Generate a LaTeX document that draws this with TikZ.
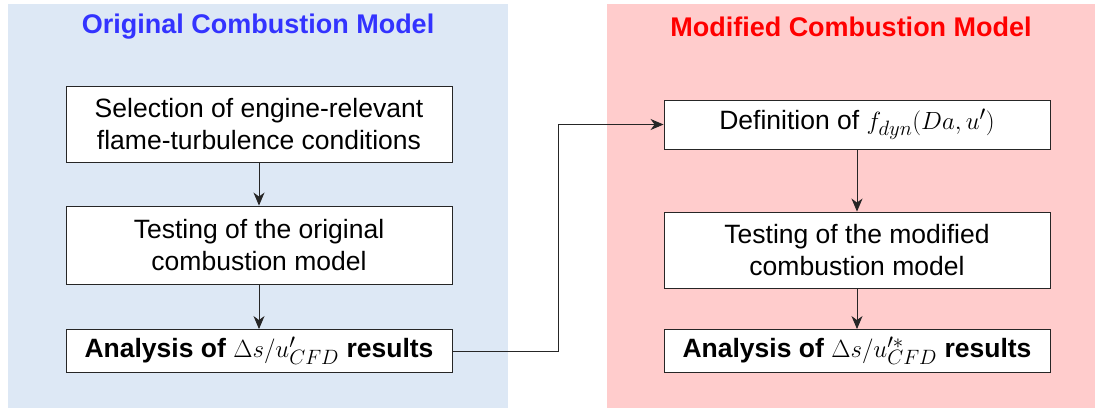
\documentclass[tikz,border=0pt]{standalone}
\usepackage{fontspec}
\setmainfont{Liberation Sans}
\usetikzlibrary{arrows.meta}
\definecolor{panelblue}{HTML}{DDE8F5}
\definecolor{panelred}{HTML}{FFCCCC}
\definecolor{titleblue}{HTML}{3333FF}
\definecolor{titlered}{HTML}{FF0000}
\definecolor{inkgray}{HTML}{262626}
\newcommand{\bigmath}[1]{{\fontsize{30}{32}\selectfont$#1$}}
\tikzset{
  paneltitle/.style={font=\fontsize{27}{32}\selectfont\bfseries, anchor=center},
  stepbox/.style={draw=inkgray, line width=0.9pt, fill=white, align=center,
    font=\fontsize{26.5}{32}\selectfont, inner sep=0pt},
  flow/.style={draw=inkgray, line width=0.9pt,
    -{Stealth[length=13pt,width=11pt,inset=4pt]}},
}
\begin{document}
\begin{tikzpicture}[x=1pt,y=-1pt]
  \useasboundingbox (0,0) rectangle (1096,408);
  % background panels
  \fill[panelblue] (8,4) rectangle (508,408);
  \fill[panelred] (607,4) rectangle (1095,408);
  \node[paneltitle, text=titleblue] (ttlA) at (258,27) {Original Combustion Model};
  \node[paneltitle, text=titlered] (ttlB) at (851,27) {Modified Combustion Model};
  % left column
  \node[stepbox, minimum width=386pt, minimum height=76pt] (a1) at (259,124)
    {Selection of engine-relevant\\flame-turbulence conditions};
  \node[stepbox, minimum width=386pt, minimum height=78pt] (a2) at (259,245)
    {Testing of the original\\combustion model};
  \node[stepbox, minimum width=386pt, minimum height=43pt] (a3) at (259,351)
    {\textbf{Analysis of} \bigmath{\Delta s/u'_{CFD}} \textbf{results}};
  % right column
  \node[stepbox, minimum width=386pt, minimum height=49pt] (b1) at (857,124.5)
    {Definition of \bigmath{f_{dyn}(Da,u')}};
  \node[stepbox, minimum width=386pt, minimum height=76pt] (b2) at (857,250)
    {Testing of the modified\\combustion model};
  \node[stepbox, minimum width=386pt, minimum height=43pt] (b3) at (857,351)
    {\textbf{Analysis of} \bigmath{\Delta s/u'^{*}_{CFD}} \textbf{results}};
  % connectors
  \draw[flow] (a1) -- (a2);
  \draw[flow] (a2) -- (a3);
  \coordinate (jx) at (558,0);
  \draw[flow] (a3.east) -| (jx |- b1.west) -- (b1.west);
  \draw[flow] (b1) -- (b2);
  \draw[flow] (b2) -- (b3);
\end{tikzpicture}
\end{document}
